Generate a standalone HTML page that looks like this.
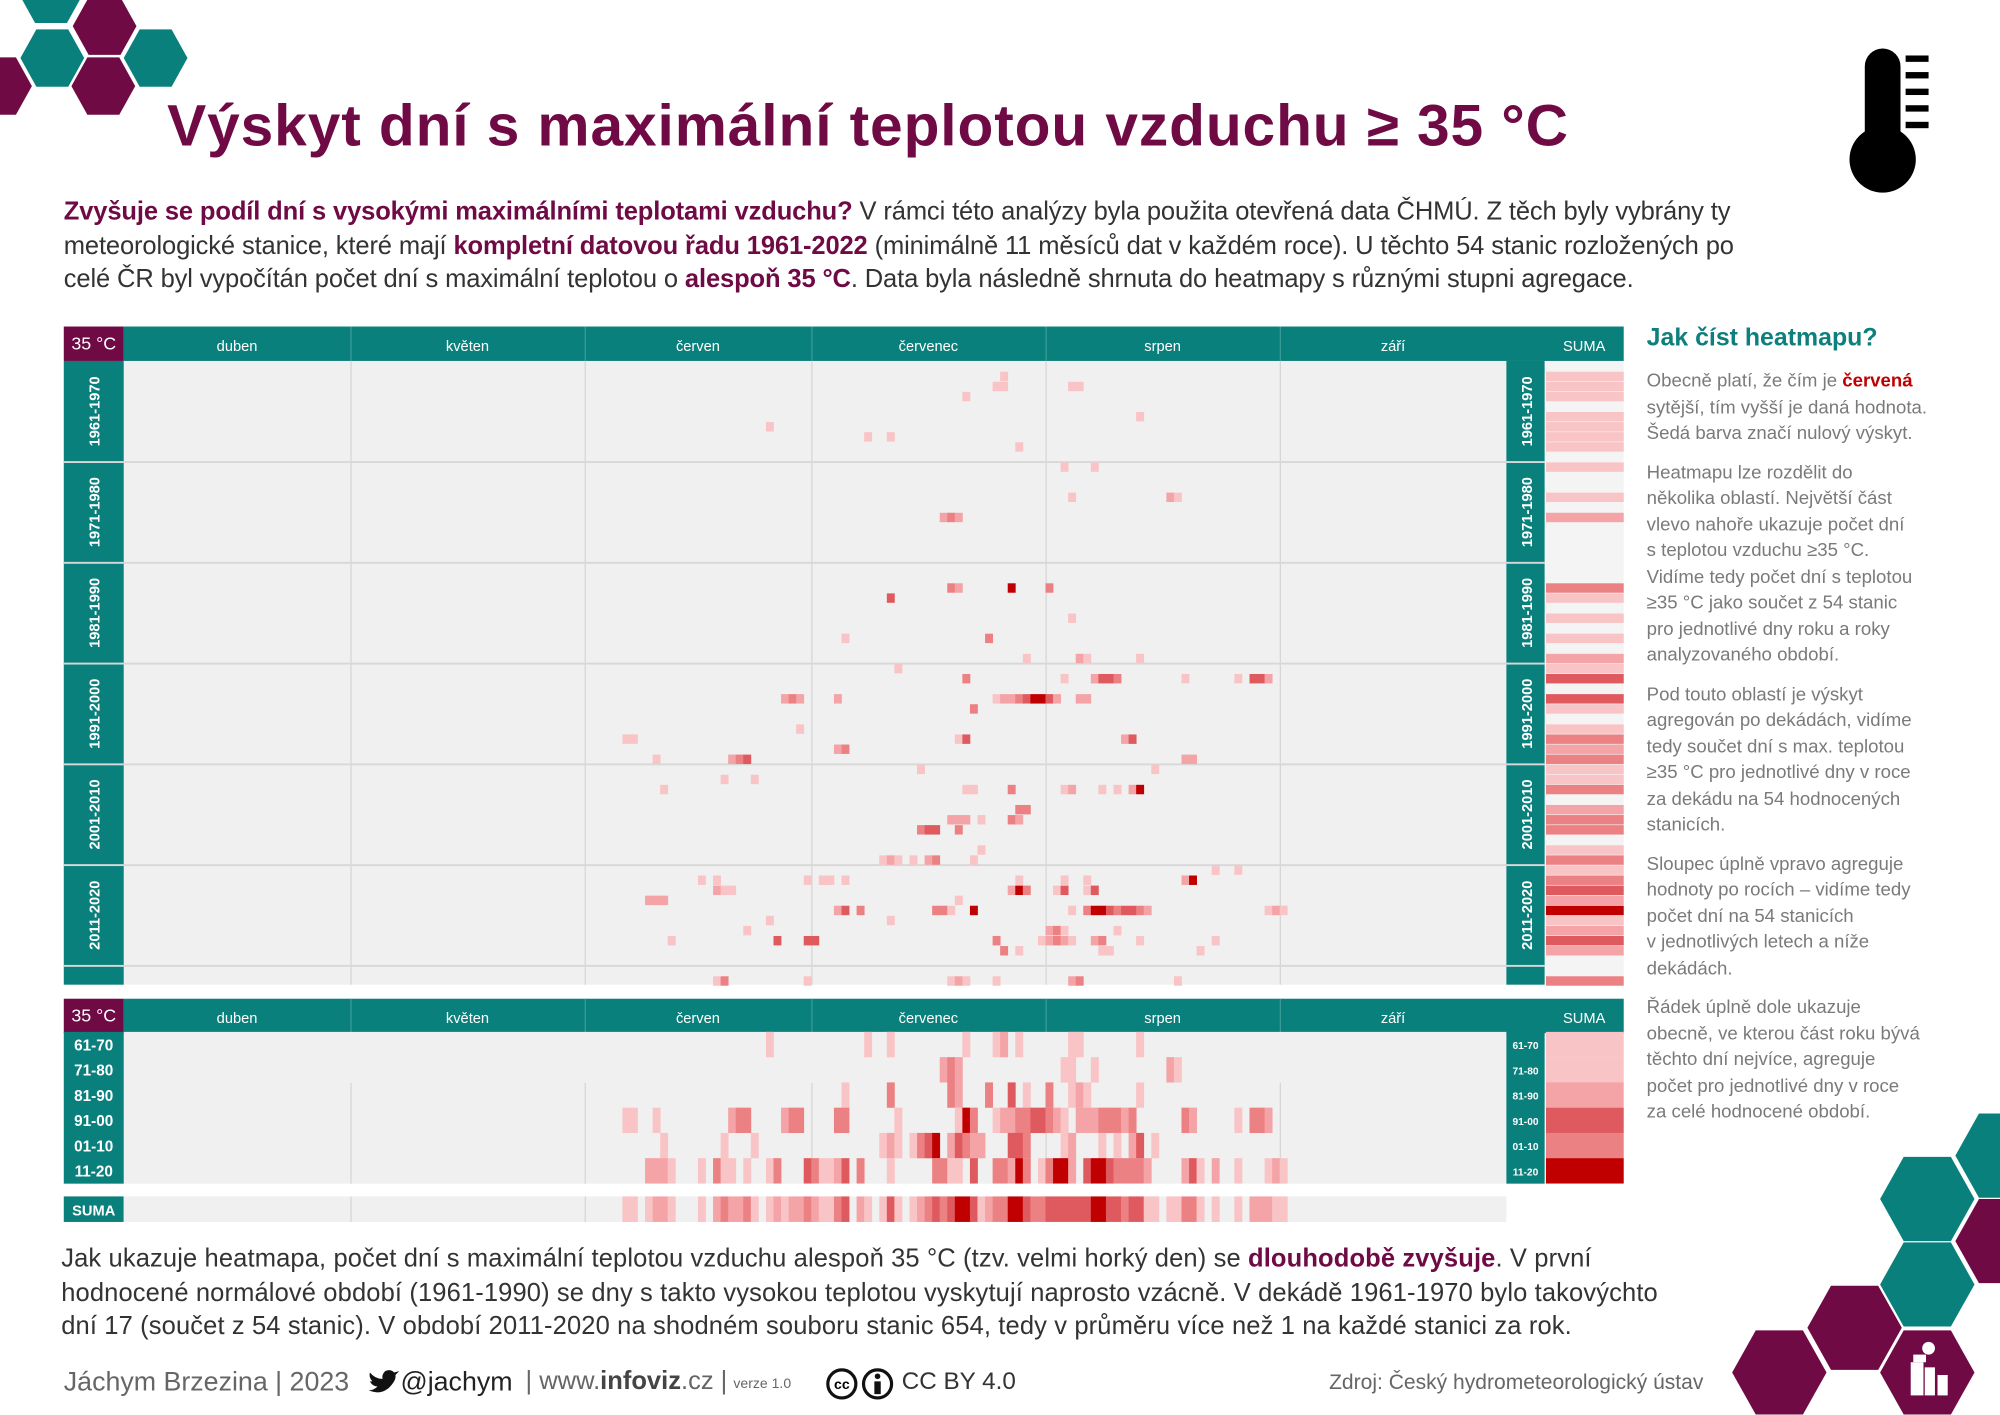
<!DOCTYPE html>
<html><head><meta charset="utf-8">
<style>
html,body{margin:0;padding:0;background:#fff;width:2000px;height:1414px;overflow:hidden}
#w{position:absolute;left:0;top:0;width:1568px;height:1109px;transform:scale(1.27551);transform-origin:0 0;font-family:"Liberation Sans",sans-serif}
.t{position:absolute;white-space:nowrap}
.m{color:#6f0a45;font-weight:bold}
</style></head><body>
<div id="w">
<svg id="s" width="1568" height="1109" style="position:absolute;left:0;top:0" xmlns="http://www.w3.org/2000/svg"></svg>
<div class="t m" style="left:131px;top:71px;font-size:46px;letter-spacing:0.7px">Výskyt dní s maximální teplotou vzduchu ≥ 35 °C</div>
<div class="t" style="left:50px;top:153px;font-size:20px;line-height:26.5px;color:#333;letter-spacing:-0.1px">
<span class="m">Zvyšuje se podíl dní s vysokými maximálními teplotami vzduchu?</span> V rámci této analýzy byla použita otevřená data ČHMÚ. Z těch byly vybrány ty<br>
meteorologické stanice, které mají <span class="m">kompletní datovou řadu 1961-2022</span> (minimálně 11 měsíců dat v každém roce). U těchto 54 stanic rozložených po<br>
celé ČR byl vypočítán počet dní s maximální teplotou o <span class="m">alespoň 35 °C</span>. Data byla následně shrnuta do heatmapy s různými stupni agregace.</div>
<div class="t" style="left:1291px;top:254px;font-size:19.5px;font-weight:bold;color:#0d7f7c">Jak číst heatmapu?</div>
<div class="t" style="left:1291px;top:289px;font-size:14.6px;line-height:20.5px;color:#7a7a7a">
Obecně platí, že čím je <b style="color:#c00000">červená</b><br>sytější, tím vyšší je daná hodnota.<br>Šedá barva značí nulový výskyt.<br>
<div style="height:10px"></div>Heatmapu lze rozdělit do<br>několika oblastí. Největší část<br>vlevo nahoře ukazuje počet dní<br>s teplotou vzduchu ≥35 °C.<br>Vidíme tedy počet dní s teplotou<br>≥35 °C jako součet z 54 stanic<br>pro jednotlivé dny roku a roky<br>analyzovaného období.<br>
<div style="height:10px"></div>Pod touto oblastí je výskyt<br>agregován po dekádách, vidíme<br>tedy součet dní s max. teplotou<br>≥35 °C pro jednotlivé dny v roce<br>za dekádu na 54 hodnocených<br>stanicích.<br>
<div style="height:10px"></div>Sloupec úplně vpravo agreguje<br>hodnoty po rocích – vidíme tedy<br>počet dní na 54 stanicích<br>v jednotlivých letech a níže<br>dekádách.<br>
<div style="height:10px"></div>Řádek úplně dole ukazuje<br>obecně, ve kterou část roku bývá<br>těchto dní nejvíce, agreguje<br>počet pro jednotlivé dny v roce<br>za celé hodnocené období.</div>
<div class="t" style="left:48px;top:974px;font-size:20px;line-height:26.5px;color:#333;letter-spacing:0.1px">
Jak ukazuje heatmapa, počet dní s maximální teplotou vzduchu alespoň 35 °C (tzv. velmi horký den) se <span class="m">dlouhodobě zvyšuje</span>. V první<br>
hodnocené normálové období (1961-1990) se dny s takto vysokou teplotou vyskytují naprosto vzácně. V dekádě 1961-1970 bylo takovýchto<br>
dní 17 (součet z 54 stanic). V období 2011-2020 na shodném souboru stanic 654, tedy v průměru více než 1 na každé stanici za rok.</div>
<div class="t" style="left:50px;top:1072px;font-size:21px;color:#666">Jáchym Brzezina | 2023</div>
<div class="t" style="left:314px;top:1072px;font-size:21px;color:#222">@jachym</div>
<div class="t" style="left:412px;top:1072px;font-size:20px;color:#666">| www.<b style="color:#444">infoviz</b>.cz |</div>
<div class="t" style="left:575px;top:1079px;font-size:11px;color:#666">verze 1.0</div>
<div class="t" style="left:707px;top:1073px;font-size:19px;color:#333">CC BY 4.0</div>
<div class="t" style="left:1042px;top:1075px;font-size:16.5px;color:#666">Zdroj: Český hydrometeorologický ústav</div>
</div>
<script>
var s=document.getElementById('s'),h='';
function R(x,y,w,hh,c){h+='<rect x="'+x+'" y="'+y+'" width="'+w+'" height="'+hh+'" fill="'+c+'"/>';}
function T(x,y,t,sz,c,ex){h+='<text x="'+x+'" y="'+y+'" font-size="'+sz+'" fill="'+c+'" text-anchor="middle" font-family="Liberation Sans, sans-serif" '+(ex||'')+'>'+t+'</text>';}
function hex(x,y,w,hh,c){h+='<polygon points="'+(x+w*.25)+','+y+' '+(x+w*.75)+','+y+' '+(x+w)+','+(y+hh/2)+' '+(x+w*.75)+','+(y+hh)+' '+(x+w*.25)+','+(y+hh)+' '+x+','+(y+hh/2)+'" fill="'+c+'"/>';}
var TE='#0a807c',MA='#6f0a45',GR='#f0f0f0';
var L=['#f0f0f0','#f9c4c6','#f4a4a7','#ec8184','#df5a5e','#c00000'];
hex(15,-27,50,45,TE);hex(57,-2,50,45,MA);hex(16,23,50,45,TE);hex(97,23,50,45,TE);hex(-25,45,50,45,MA);hex(56,45,50,45,MA);
hex(1533,873,74,66,TE);hex(1474,907,74,66,TE);hex(1533,940,74,66,MA);hex(1474,974,74,66,TE);hex(1417,1008,74,66,MA);hex(1358,1043,74,66,MA);hex(1474,1043,74,66,MA);
R(1500,1062,10,6,'#fff');h+='<circle cx="1512" cy="1057" r="5" fill="#fff"/>';R(1498,1068,10,26,'#fff');R(1509,1072,8,22,'#fff');R(1519,1078,8,16,'#fff');
h+='<circle cx="1476" cy="125" r="26" fill="#000"/><rect x="1462" y="38" width="28" height="80" rx="14" fill="#000"/>';
[46,59,72,85,98].forEach(function(y){R(1494,y-2.5,18,5,'#000');});
h+='<circle cx="660" cy="1085" r="11" fill="none" stroke="#111" stroke-width="2.5"/><text x="660" y="1089" font-size="11" font-weight="bold" text-anchor="middle" font-family="Liberation Sans">cc</text>';
h+='<circle cx="688" cy="1085" r="11" fill="none" stroke="#111" stroke-width="2.5"/><circle cx="688" cy="1079" r="2.2" fill="#111"/><rect x="685.5" y="1083" width="5" height="10" fill="#111"/>';
h+='<path d="M289 1090 Q298 1094 305 1088 Q311 1082 310 1078 L313 1075 L309 1076 Q306 1073 302 1075 Q299 1078 300 1081 Q294 1081 290 1076 Q289 1080 292 1083 L290 1083 Q292 1087 296 1087 Q293 1090 289 1090 Z" fill="#111"/>';
var X0=97,DW=1084/183,Y0=283,YH=7.9;
var mb=[0,30,61,91,122,153,183],mn=['duben','květen','červen','červenec','srpen','září'];
function header(y){R(97,y,1176,27,TE);R(50,y,47,27,MA);T(73.5,y+18,'35 °C',14,'#fff');
 for(var i=0;i<6;i++){var a=X0+mb[i]*DW,b=X0+mb[i+1]*DW;T((a+b)/2,y+19,mn[i],11.5,'#fff');if(i>0)R(a,y,1,27,'#3a9a96');}
 T(1242,y+19,'SUMA',11.5,'#fff');}
header(256);
R(97,283,1084,489,GR);R(50,283,47,489,TE);R(1181,283,30,489,TE);R(1212,283,61,489,'#f4f4f4');
for(var i=1;i<6;i++)R(X0+mb[i]*DW,283,1,489,'#d6d6d6');
var dec=['1961-1970','1971-1980','1981-1990','1991-2000','2001-2010','2011-2020'];
for(var k=0;k<7;k++){var y=Y0+k*79;if(k>0){R(97,y-0.5,1084,1.5,'#d8d8d8');R(50,y-0.5,47,1.5,'#d8d8d8');R(1181,y-0.5,30,1.5,'#d8d8d8');}
 if(k<6){var cy=y+39.5;h+='<text x="0" y="0" transform="translate(78,'+cy+') rotate(-90)" font-size="11.5" font-weight="bold" fill="#fff" text-anchor="middle" font-family="Liberation Sans">'+dec[k]+'</text>';
 h+='<text x="0" y="0" transform="translate(1201,'+cy+') rotate(-90)" font-size="11.5" font-weight="bold" fill="#fff" text-anchor="middle" font-family="Liberation Sans">'+dec[k]+'</text>';}}
var C=[[2,115,"11"],[3,111,"1"],[6,85,"1"],[7,98,"1"],[7,101,"1"],[1,116,"1"],[2,125,"11"],[5,134,"1"],[8,118,"1"],
[15,108,"232"],[10,124,"1"],[10,128,"1"],[13,125,"1"],[13,138,"21"],
[22,109,"32"],[23,101,"4"],[27,95,"1"],[27,114,"3"],[22,117,"5"],[22,122,"3"],[25,125,"1"],[29,119,"1"],[29,126,"21"],[29,134,"1"],
[30,102,"1"],[31,111,"3"],[33,87,"232"],[33,94,"2"],[33,115,"122345542"],[33,126,"22"],[34,112,"3"],[36,89,"1"],[37,66,"11"],[37,110,"14"],[38,94,"23"],[39,70,"1"],[39,80,"234"],[31,124,"1"],[31,128,"2443"],[31,140,"1"],[31,147,"1"],[31,149,"442"],[37,132,"24"],[39,140,"22"],
[40,105,"1"],[40,136,"1"],[42,71,"1"],[41,79,"1"],[41,83,"1"],[42,111,"11"],[45,109,"222"],[45,113,"1"],[46,105,"344"],[46,110,"3"],[48,113,"1"],[49,100,"121"],[49,104,"1"],[49,106,"23"],[49,112,"1"],[42,117,"3"],[42,124,"12"],[42,129,"1"],[42,131,"1"],[42,133,"25"],[44,118,"33"],[45,117,"32"],
[51,76,"1"],[51,78,"1"],[52,78,"211"],[53,69,"222"],[51,90,"1"],[51,92,"11"],[51,95,"1"],[54,94,"24"],[54,97,"3"],[54,107,"331"],[53,110,"1"],[54,112,"5"],[55,85,"1"],[55,101,"1"],[56,82,"1"],[57,72,"1"],[57,86,"4"],[57,90,"44"],[57,115,"3"],[51,118,"1"],[51,124,"1"],[51,127,"1"],[51,140,"25"],[50,144,"1"],[50,147,"1"],[52,117,"253"],[52,123,"14"],[52,127,"14"],[54,125,"1"],[54,127,"355434432"],[54,151,"121"],[56,122,"23"],[56,124,"1"],[56,131,"1"],[57,121,"12321"],[57,128,"23"],[57,134,"1"],[57,144,"1"],[58,116,"3"],[58,118,"1"],[58,129,"11"],[58,142,"1"],
[61,78,"13"],[61,90,"1"],[61,109,"121"],[61,115,"1"],[61,125,"23"],[61,139,"1"]];
var yr=[],dd=[],tot=[];for(var i=0;i<62;i++)yr[i]=0;for(var d=0;d<6;d++){dd[d]=[];for(var j=0;j<183;j++)dd[d][j]=0;}for(var j=0;j<183;j++)tot[j]=0;
C.forEach(function(c){for(var q=0;q<c[2].length;q++){var lv=+c[2][q],day=c[1]+q;R(X0+day*DW,Y0+c[0]*YH+0.5,DW+0.3,YH-0.5,L[lv]);yr[c[0]]+=lv;var de=Math.floor(c[0]/10);if(de<6)dd[de][day]+=lv;tot[day]+=lv;}});
function lev(v,t){for(var i=t.length-1;i>=0;i--)if(v>=t[i])return i+1;return 0;}
for(var i=0;i<62;i++){var l=lev(yr[i],[1,5,10,20,50]);if(l)R(1212,Y0+i*YH+0.5,61,YH-0.5,L[l]);}
header(783);
R(97,809,1084,119,GR);R(50,809,47,119,TE);R(1181,809,30,119,TE);
for(var i=1;i<6;i++)R(X0+mb[i]*DW,849,1,79,'#d6d6d6');
var dl=['61-70','71-80','81-90','91-00','01-10','11-20'],ds=[1,1,2,4,3,5];
for(var d=0;d<6;d++){var y=809+d*19.8;T(73.5,y+14.5,dl[d],12,'#fff','font-weight="bold"');T(1196,y+13.5,dl[d],8,'#fff','font-weight="bold"');R(1212,y,61,19.9,L[ds[d]]);
 for(var j=0;j<183;j++){var l=lev(dd[d][j],[1,2,3,5,7]);if(l)R(X0+j*DW,y,DW+0.3,19.9,L[l]);}}
R(50,938,47,20,TE);T(73.5,953,'SUMA',11.5,'#fff','font-weight="bold"');R(97,938,1084,20,GR);
for(var i=1;i<6;i++)R(X0+mb[i]*DW,938,1,20,'#d6d6d6');
for(var j=0;j<183;j++){var l=lev(tot[j],[1,3,5,8,12]);if(l)R(X0+j*DW,938,DW+0.3,20,L[l]);}
s.innerHTML=h;
</script>
</body></html>
